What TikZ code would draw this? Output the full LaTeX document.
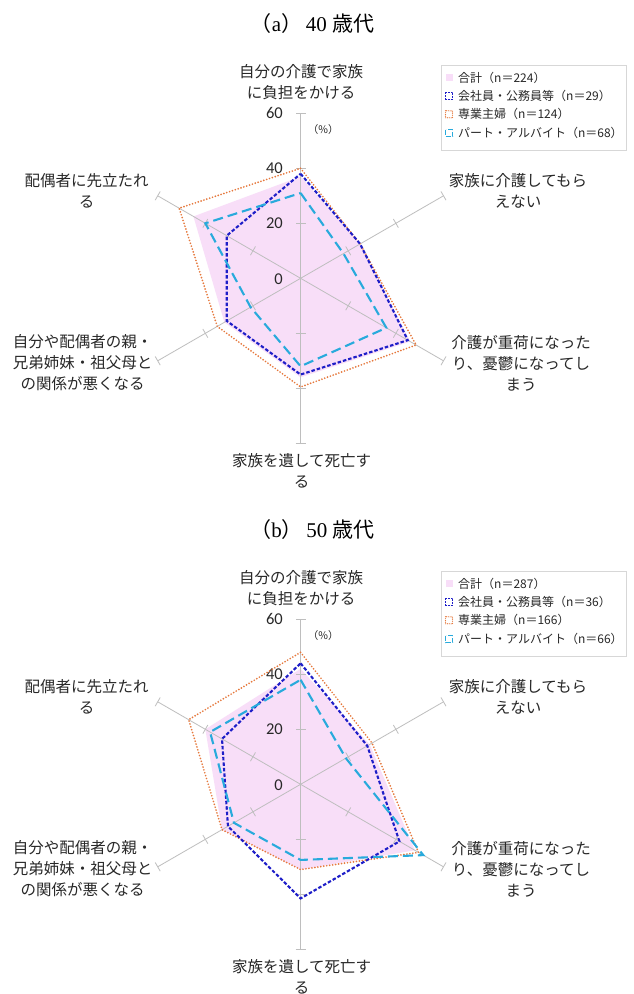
\documentclass[tikz,border=0pt]{standalone}
\usepackage{fontspec}
\setmainfont{Liberation Serif}
\newfontfamily\jp{Noto Sans CJK JP}
\newfontfamily\numfont{Carlito}
\definecolor{pinkfill}{RGB}{248,222,248}
\definecolor{dblue}{RGB}{30,30,200}
\definecolor{orng}{RGB}{230,120,60}
\definecolor{cyn}{RGB}{40,170,220}
\definecolor{axisgray}{RGB}{190,190,190}
\definecolor{boxgray}{RGB}{215,215,215}
\definecolor{txt}{RGB}{40,40,40}
\tikzset{
  axisline/.style={draw=axisgray, line width=0.8pt},
  totalfill/.style={fill=pinkfill, draw=none},
  kaisha/.style={draw=dblue, line width=2.1pt, dash pattern=on 3.5pt off 2pt},
  sengyo/.style={draw=orng, line width=1.9pt, dash pattern=on 0pt off 3pt, line cap=round},
  part/.style={draw=cyn, line width=2.1pt, dash pattern=on 10pt off 5pt},
  axlabel/.style={font=\jp\fontsize{15.5}{21}\selectfont, align=center, text=txt, inner sep=0pt},
  ticklabel/.style={font=\numfont\fontsize{16.5}{16.5}\selectfont, anchor=east, text=txt, inner sep=0pt},
  legtext/.style={font=\jp\fontsize{12}{12}\selectfont, anchor=west, text=txt, inner sep=0pt},
  titletext/.style={font=\fontsize{21}{21}\selectfont, inner sep=0pt},
  legkaisha/.style={draw=dblue, line width=1.3pt, dash pattern=on 2pt off 1pt},
  legsengyo/.style={draw=orng, line width=1.2pt, dash pattern=on 0pt off 1.8pt, line cap=round},
  legpart/.style={draw=cyn, line width=1.3pt, dash pattern=on 5pt off 2pt},
}
\newcommand{\radarpoly}[7]{\path[#1] (90:{#2*2.75}) -- (30:{#3*2.75}) -- (-30:{#4*2.75}) -- (-90:{#5*2.75}) -- (210:{#6*2.75}) -- (150:{#7*2.75}) -- cycle;}
\newcommand{\chartframe}[7]{%
  \node[titletext] (#1-title) at (312.5,-23.3) {{\jp （}#2{\jp ）}\,#3 {\jp 歳代}};
  \begin{scope}[shift={(300.6,-278.3)}]
    \foreach \a in {90,30,-30,-90,210,150} {
      \draw[axisline] (0,0) -- (\a:165);
      \foreach \r in {55,110,165} {
        \draw[axisline, rotate=\a] (\r,-5) -- (\r,5);
      }
    }
  \end{scope}
  \node[ticklabel] (#1-t60) at (283,-113.3) {60};
  \node[ticklabel] (#1-t40) at (283,-168.3) {40};
  \node[ticklabel] (#1-t20) at (283,-223.3) {20};
  \node[ticklabel] (#1-t0) at (283,-278.8) {0};
  \node[font=\jp\fontsize{10.5}{10.5}\selectfont, text=txt] (#1-pct) at (323.3,-130) {（\%）};
  \node[axlabel] (#1-l1) at (301,-82) {自分の介護で家族\\に負担をかける};
  \node[axlabel] (#1-l2) at (518,-191) {家族に介護してもら\\えない};
  \node[axlabel] (#1-l3) at (521,-363) {介護が重荷になった\\り、憂鬱になってし\\まう};
  \node[axlabel] (#1-l4) at (301.7,-471) {家族を遺して死亡す\\る};
  \node[axlabel] (#1-l5) at (82.5,-363) {自分や配偶者の親・\\兄弟姉妹・祖父母と\\の関係が悪くなる};
  \node[axlabel] (#1-l6) at (86.7,-191) {配偶者に先立たれ\\る};
  \draw[boxgray, line width=0.8pt] (441.7,-65) rectangle (626.7,-150);
  \fill[pinkfill] (445.5,-74.2) rectangle (452.5,-81.2);
  \draw[legkaisha] (445.5,-92.2) rectangle (452.5,-99.2);
  \draw[legsengyo] (445.5,-110.8) rectangle (452.5,-117.8);
  \draw[legpart] (445.5,-129.8) rectangle (452.5,-136.8);
  \node[legtext] (#1-g1) at (458,-77.7) {合計（n＝#4）};
  \node[legtext] (#1-g2) at (458,-95.7) {会社員・公務員等（n＝#5）};
  \node[legtext] (#1-g3) at (458,-114.3) {専業主婦（n＝#6）};
  \node[legtext] (#1-g4) at (458,-133.3) {パート・アルバイト（n＝#7）};
}
\begin{document}
\begin{tikzpicture}[x=1pt,y=1pt]
\useasboundingbox (0,0) rectangle (633,-994);
\fill[white] (0,0) rectangle (633,-994);
% chart (a)
\begin{scope}
  \begin{scope}[shift={(300.6,-278.3)}]
    \radarpoly{totalfill}{37}{25}{46}{36}{32}{45}
  \end{scope}
  \chartframe{a}{a}{40}{224}{29}{124}{68}
  \begin{scope}[shift={(300.6,-278.3)}]
    \radarpoly{sengyo}{40}{25}{48.5}{39.5}{35}{51}
    \radarpoly{kaisha}{38}{25}{45}{35}{31}{31}
    \radarpoly{part}{31}{18}{36}{32}{21}{40}
  \end{scope}
\end{scope}
% chart (b)
\begin{scope}[yshift=-506]
  \begin{scope}[shift={(300.6,-278.3)}]
    \radarpoly{totalfill}{42}{29}{48}{31}{33}{40}
  \end{scope}
  \chartframe{b}{b}{50}{287}{36}{166}{66}
  \begin{scope}[shift={(300.6,-278.3)}]
    \radarpoly{sengyo}{48}{30}{49.5}{31}{33}{47}
    \radarpoly{kaisha}{44}{28}{41.5}{41.5}{30.5}{33}
    \radarpoly{part}{38}{19}{51.5}{27.5}{28}{38}
  \end{scope}
\end{scope}
\end{tikzpicture}
\end{document}
